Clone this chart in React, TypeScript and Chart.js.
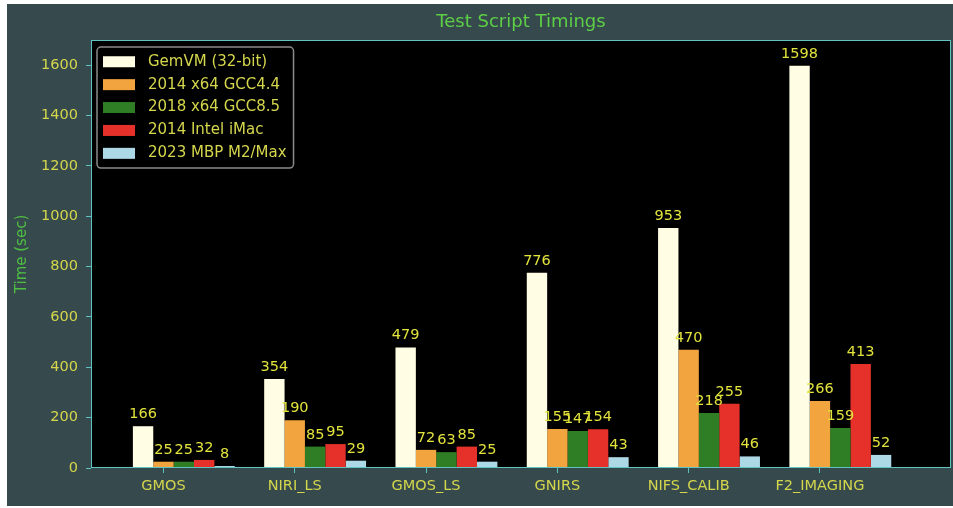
import React, { useEffect, useRef } from "react";
import { Chart, registerables } from "chart.js";

Chart.register(...registerables);

const categories = ["GMOS", "NIRI_LS", "GMOS_LS", "GNIRS", "NIFS_CALIB", "F2_IMAGING"];
const seriesNames = ["GemVM (32-bit)", "2014 x64 GCC4.4", "2018 x64 GCC8.5", "2014 Intel iMac", "2023 MBP M2/Max"];
const gemvm = [166, 354, 479, 776, 953, 1598];
const gcc44 = [25, 190, 72, 155, 470, 266];
const gcc85 = [25, 85, 63, 147, 218, 159];
const intelImac = [32, 95, 85, 154, 255, 413];
const m2max = [8, 29, 25, 43, 46, 52];
const seriesColors = ["#fffde3", "#f2a43f", "#2f7e25", "#e6312a", "#add8e6"];

const FONT = '"DejaVu Sans", sans-serif';
const BG = "#364a4d";
const SPINE = "#5fc3c1";
const TICK_TEXT = "#d4d64c";
const LABEL_TEXT = "#e2e33c";
const TITLE_GREEN = "#5ccf45";
const AXIS_GREEN = "#4fbf41";
const GROUP_FRACTION = 0.776;

export default function App() {
  const ref = useRef<HTMLCanvasElement>(null);

  useEffect(() => {
    const canvas = ref.current!;
    const seriesValues = [gemvm, gcc44, gcc85, intelImac, m2max];
    const tickShift = GROUP_FRACTION / seriesNames.length;

    const decor = {
      id: "decor",
      beforeDraw(chart: any) {
        const { ctx, chartArea: a, width, height } = chart;
        ctx.save();
        ctx.fillStyle = BG;
        ctx.fillRect(0, 0, width, height);
        ctx.fillStyle = "#000";
        ctx.fillRect(a.left, a.top, a.right - a.left, a.bottom - a.top);
        ctx.restore();
      },
      afterDatasetsDraw(chart: any) {
        const { ctx, chartArea: a } = chart;
        ctx.save();
        ctx.strokeStyle = SPINE;
        ctx.lineWidth = 1;
        ctx.strokeRect(a.left + 0.5, a.top + 0.5, a.right - a.left - 1, a.bottom - a.top - 1);
        ctx.font = `14.5px ${FONT}`;
        ctx.fillStyle = LABEL_TEXT;
        ctx.textAlign = "center";
        ctx.textBaseline = "alphabetic";
        chart.data.datasets.forEach((ds: any, di: number) => {
          const meta = chart.getDatasetMeta(di);
          meta.data.forEach((el: any, i: number) => {
            ctx.fillText(String(ds.data[i].y), el.x, el.y - 8);
          });
        });
        ctx.restore();
      },
      afterDraw(chart: any) {
        const { ctx, chartArea: a } = chart;
        ctx.save();
        ctx.font = `15px ${FONT}`;
        const names: string[] = chart.data.datasets.map((d: any) => d.label);
        const textW = Math.max(...names.map((s) => ctx.measureText(s).width));
        const padX = 6, sw = 32, sh = 11, gap = 13, padR = 7, rowH = 22.9, padY = 3.3;
        const x0 = a.left + 6, y0 = a.top + 7;
        const w = padX + sw + gap + textW + padR;
        const h = padY * 2 + rowH * names.length;
        ctx.beginPath();
        ctx.roundRect(x0, y0, w, h, 4);
        ctx.fillStyle = "rgba(0,0,0,0.8)";
        ctx.fill();
        ctx.strokeStyle = "#8a8a8a";
        ctx.lineWidth = 1.5;
        ctx.stroke();
        names.forEach((nm, i) => {
          const cy = y0 + padY + rowH * (i + 0.5);
          ctx.fillStyle = seriesColors[i];
          ctx.fillRect(x0 + padX, cy - sh / 2, sw, sh);
          ctx.fillStyle = TICK_TEXT;
          ctx.textBaseline = "middle";
          ctx.textAlign = "left";
          ctx.fillText(nm, x0 + padX + sw + gap, cy);
        });
        ctx.restore();
      },
    };

    const chart = new Chart(canvas, {
      type: "bar",
      data: {
        datasets: seriesNames.map((name, si) => ({
          label: name,
          data: categories.map((_, i) => ({ x: i, y: seriesValues[si][i] })),
          backgroundColor: seriesColors[si],
          borderWidth: 0,
          categoryPercentage: GROUP_FRACTION,
          barPercentage: 1,
        })),
      },
      options: {
        animation: false,
        responsive: false,
        devicePixelRatio: 1,
        events: [],
        layout: { padding: { left: 0, right: 2, top: 0, bottom: 0 } },
        plugins: {
          legend: { display: false },
          tooltip: { enabled: false },
          title: {
            display: true,
            text: "Test Script Timings",
            color: TITLE_GREEN,
            fullSize: false,
            font: { family: FONT, size: 18, weight: "normal" },
            padding: { top: 8, bottom: 6.4 },
          },
        },
        scales: {
          x: {
            type: "linear",
            min: -0.707,
            max: 5.843,
            offset: false,
            grid: {
              display: true,
              offset: false,
              drawOnChartArea: false,
              drawTicks: true,
              tickLength: 5,
              color: SPINE,
              lineWidth: 1,
            },
            border: { display: false },
            afterBuildTicks: (s: any) => {
              s.ticks = categories.map((_, i) => ({ value: i - tickShift }));
            },
            afterFit: (s: any) => {
              s.height = 38;
            },
            ticks: {
              autoSkip: false,
              maxRotation: 0,
              minRotation: 0,
              padding: 5,
              color: TICK_TEXT,
              font: { family: FONT, size: 14.5 },
              callback: (_v: any, idx: number) => categories[idx],
            },
          } as any,
          y: {
            type: "linear",
            min: 0,
            max: 1700,
            grid: {
              display: true,
              drawOnChartArea: false,
              drawTicks: true,
              tickLength: 5,
              color: SPINE,
              lineWidth: 1,
            },
            border: { display: false },
            afterFit: (s: any) => {
              s.width = 84;
            },
            ticks: {
              stepSize: 200,
              includeBounds: false,
              padding: 8,
              color: TICK_TEXT,
              font: { family: FONT, size: 14.5 },
              callback: (v: any) => String(v),
            },
            title: {
              display: true,
              text: "Time (sec)",
              color: AXIS_GREEN,
              font: { family: FONT, size: 15 },
              padding: { top: 6.5, bottom: 0 },
            },
          } as any,
        },
      },
      plugins: [decor],
    } as any);

    return () => chart.destroy();
  }, []);

  return (
    <div style={{ position: "fixed", left: 7, top: 4, width: 946, height: 502 }}>
      <canvas ref={ref} width={946} height={502} style={{ display: "block" }} />
    </div>
  );
}
